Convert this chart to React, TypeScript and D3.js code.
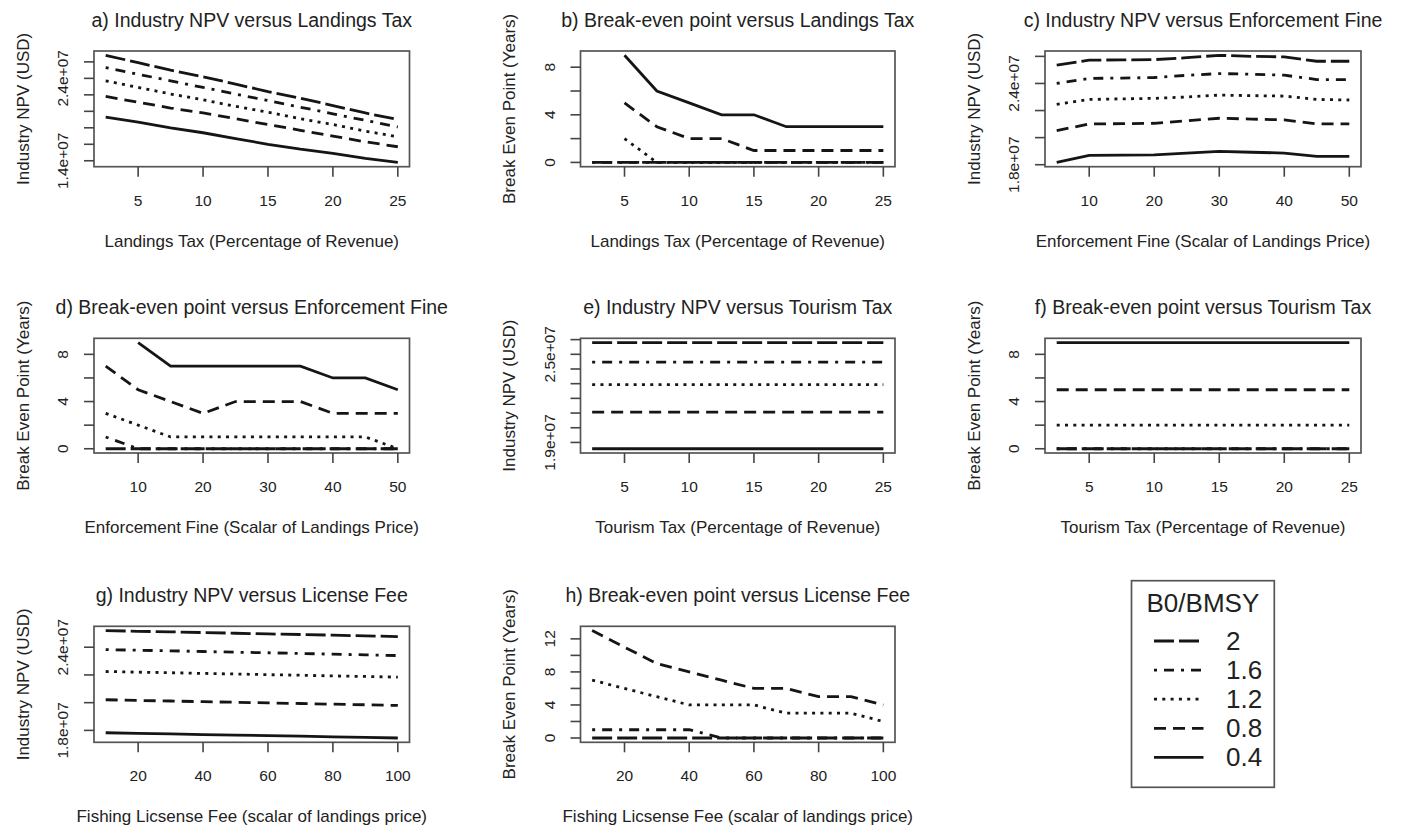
import React from "react";
import * as d3 from "d3";

// ---------- data ----------
const LEVELS = ["2", "1.6", "1.2", "0.8", "0.4"]; // B0/BMSY
const DASHES = ["20 5", "3 7 10 7", "3 5.3", "12 7", ""];

const taxPct = [2.5, 5, 7.5, 10, 12.5, 15, 17.5, 20, 22.5, 25];
const finePct = [5, 10, 15, 20, 25, 30, 35, 40, 45, 50];
const feeScalar = [10, 20, 30, 40, 50, 60, 70, 80, 90, 100];
const N = NaN;

// a) Industry NPV vs landings tax
const npvTax2 = [2.68e7, 2.59e7, 2.5e7, 2.42e7, 2.33e7, 2.24e7, 2.16e7, 2.07e7, 1.98e7, 1.9e7];
const npvTax16 = [2.53e7, 2.45e7, 2.37e7, 2.29e7, 2.21e7, 2.13e7, 2.05e7, 1.97e7, 1.89e7, 1.81e7];
const npvTax12 = [2.37e7, 2.29e7, 2.21e7, 2.14e7, 2.06e7, 1.99e7, 1.91e7, 1.84e7, 1.76e7, 1.69e7];
const npvTax08 = [2.18e7, 2.11e7, 2.04e7, 1.98e7, 1.91e7, 1.84e7, 1.77e7, 1.7e7, 1.63e7, 1.57e7];
const npvTax04 = [1.93e7, 1.87e7, 1.8e7, 1.74e7, 1.67e7, 1.6e7, 1.54e7, 1.49e7, 1.43e7, 1.38e7];

// b) Break-even vs landings tax
const beTax2 = [0, 0, 0, 0, 0, 0, 0, 0, 0, 0];
const beTax16 = [0, 0, 0, 0, 0, 0, 0, 0, 0, 0];
const beTax12 = [N, 2, 0, 0, 0, 0, 0, 0, 0, 0];
const beTax08 = [N, 5, 3, 2, 2, 1, 1, 1, 1, 1];
const beTax04 = [N, 9, 6, 5, 4, 4, 3, 3, 3, 3];

// c) Industry NPV vs enforcement fine
const npvFine2 = [2.535e7, 2.572e7, 2.574e7, 2.576e7, 2.59e7, 2.608e7, 2.6e7, 2.596e7, 2.564e7, 2.564e7];
const npvFine16 = [2.4e7, 2.437e7, 2.44e7, 2.444e7, 2.46e7, 2.473e7, 2.468e7, 2.461e7, 2.429e7, 2.429e7];
const npvFine12 = [2.246e7, 2.282e7, 2.286e7, 2.29e7, 2.3e7, 2.314e7, 2.31e7, 2.307e7, 2.282e7, 2.278e7];
const npvFine08 = [2.052e7, 2.101e7, 2.103e7, 2.106e7, 2.125e7, 2.143e7, 2.137e7, 2.131e7, 2.101e7, 2.101e7];
const npvFine04 = [1.817e7, 1.869e7, 1.871e7, 1.873e7, 1.886e7, 1.898e7, 1.892e7, 1.886e7, 1.861e7, 1.861e7];

// d) Break-even vs enforcement fine
const beFine2 = [0, 0, 0, 0, 0, 0, 0, 0, 0, 0];
const beFine16 = [1, 0, 0, 0, 0, 0, 0, 0, 0, 0];
const beFine12 = [3, 2, 1, 1, 1, 1, 1, 1, 1, 0];
const beFine08 = [7, 5, 4, 3, 4, 4, 4, 3, 3, 3];
const beFine04 = [N, 9, 7, 7, 7, 7, 7, 6, 6, 5];

// e) Industry NPV vs tourism tax
const npvTour2 = [2.58e7, 2.58e7, 2.58e7, 2.58e7, 2.58e7, 2.58e7, 2.58e7, 2.58e7, 2.58e7, 2.58e7];
const npvTour16 = [2.447e7, 2.447e7, 2.447e7, 2.447e7, 2.447e7, 2.447e7, 2.447e7, 2.447e7, 2.447e7, 2.447e7];
const npvTour12 = [2.293e7, 2.293e7, 2.293e7, 2.293e7, 2.293e7, 2.293e7, 2.293e7, 2.293e7, 2.293e7, 2.293e7];
const npvTour08 = [2.107e7, 2.107e7, 2.107e7, 2.107e7, 2.107e7, 2.107e7, 2.107e7, 2.107e7, 2.107e7, 2.107e7];
const npvTour04 = [1.857e7, 1.857e7, 1.857e7, 1.857e7, 1.857e7, 1.857e7, 1.857e7, 1.857e7, 1.857e7, 1.857e7];

// f) Break-even vs tourism tax
const beTour2 = [0, 0, 0, 0, 0, 0, 0, 0, 0, 0];
const beTour16 = [0, 0, 0, 0, 0, 0, 0, 0, 0, 0];
const beTour12 = [2, 2, 2, 2, 2, 2, 2, 2, 2, 2];
const beTour08 = [5, 5, 5, 5, 5, 5, 5, 5, 5, 5];
const beTour04 = [9, 9, 9, 9, 9, 9, 9, 9, 9, 9];

// g) Industry NPV vs license fee
const npvFee2 = [2.52e7, 2.515e7, 2.511e7, 2.506e7, 2.501e7, 2.496e7, 2.492e7, 2.487e7, 2.482e7, 2.477e7];
const npvFee16 = [2.383e7, 2.378e7, 2.374e7, 2.369e7, 2.364e7, 2.36e7, 2.355e7, 2.35e7, 2.345e7, 2.34e7];
const npvFee12 = [2.225e7, 2.22e7, 2.216e7, 2.211e7, 2.207e7, 2.202e7, 2.198e7, 2.193e7, 2.189e7, 2.184e7];
const npvFee08 = [2.021e7, 2.016e7, 2.012e7, 2.007e7, 2.003e7, 1.998e7, 1.994e7, 1.989e7, 1.985e7, 1.98e7];
const npvFee04 = [1.783e7, 1.779e7, 1.775e7, 1.77e7, 1.766e7, 1.762e7, 1.758e7, 1.753e7, 1.749e7, 1.745e7];

// h) Break-even vs license fee
const beFee2 = [0, 0, 0, 0, 0, 0, 0, 0, 0, 0];
const beFee16 = [1, 1, 1, 1, 0, 0, 0, 0, 0, 0];
const beFee12 = [7, 6, 5, 4, 4, 4, 3, 3, 3, 2];
const beFee08 = [13, 11, 9, 8, 7, 6, 6, 5, 5, 4];
const beFee04 = [N, N, N, N, N, N, N, N, N, N];

// ticks
const taxTicks = [5, 10, 15, 20, 25];
const fineTicks = [10, 20, 30, 40, 50];
const feeTicks = [20, 40, 60, 80, 100];
const npvTaxTicks = [1.4e7, 1.6e7, 1.8e7, 2.0e7, 2.2e7, 2.4e7, 2.6e7];
const npvTaxLabels = [1.4e7, 2.4e7];
const npvFineTicks = [1.8e7, 2.0e7, 2.2e7, 2.4e7, 2.6e7];
const npvFineLabels = [1.8e7, 2.4e7];
const npvTourTicks = [1.9e7, 2.0e7, 2.1e7, 2.2e7, 2.3e7, 2.4e7, 2.5e7, 2.6e7];
const npvTourLabels = [1.9e7, 2.5e7];
const npvFeeTicks = [1.8e7, 2.0e7, 2.2e7, 2.4e7];
const npvFeeLabels = [1.8e7, 2.4e7];
const beTicks = [0, 2, 4, 6, 8];
const beLabels = [0, 4, 8];
const beFeeTicks = [0, 2, 4, 6, 8, 10, 12];
const beFeeLabels = [0, 4, 8, 12];

// ---------- layout ----------
const COLS: [number, number][] = [[94, 409.5], [580.5, 895], [1045, 1361]];
const ROWS: [number, number][] = [[51, 166.7], [338.3, 453], [626.3, 742.3]];
const TEXT = "#222";
const FONT = "'Liberation Sans', Arial, sans-serif";

const sci = (v: number) =>
  v.toExponential(1).replace(/e([+-])(\d)$/, (_m, s, d) => "e" + s + "0" + d);
const plain = (v: number) => String(v);

const NPV_Y = "Industry NPV (USD)";
const BE_Y = "Break Even Point (Years)";
const TAX_X = "Landings Tax (Percentage of Revenue)";
const FINE_X = "Enforcement Fine (Scalar of Landings Price)";
const TOUR_X = "Tourism Tax (Percentage of Revenue)";
const FEE_X = "Fishing Licsense Fee (scalar of landings price)";

const panels = [
  { title: "a) Industry NPV versus Landings Tax", xl: TAX_X, yl: NPV_Y, x: taxPct, s: [npvTax2, npvTax16, npvTax12, npvTax08, npvTax04], xt: taxTicks, yt: npvTaxTicks, ylab: npvTaxLabels, f: sci, r: 0, c: 0 },
  { title: "b) Break-even point versus Landings Tax", xl: TAX_X, yl: BE_Y, x: taxPct, s: [beTax2, beTax16, beTax12, beTax08, beTax04], xt: taxTicks, yt: beTicks, ylab: beLabels, f: plain, r: 0, c: 1 },
  { title: "c) Industry NPV versus Enforcement Fine", xl: FINE_X, yl: NPV_Y, x: finePct, s: [npvFine2, npvFine16, npvFine12, npvFine08, npvFine04], xt: fineTicks, yt: npvFineTicks, ylab: npvFineLabels, f: sci, r: 0, c: 2 },
  { title: "d) Break-even point versus Enforcement Fine", xl: FINE_X, yl: BE_Y, x: finePct, s: [beFine2, beFine16, beFine12, beFine08, beFine04], xt: fineTicks, yt: beTicks, ylab: beLabels, f: plain, r: 1, c: 0 },
  { title: "e) Industry NPV versus Tourism Tax", xl: TOUR_X, yl: NPV_Y, x: taxPct, s: [npvTour2, npvTour16, npvTour12, npvTour08, npvTour04], xt: taxTicks, yt: npvTourTicks, ylab: npvTourLabels, f: sci, r: 1, c: 1 },
  { title: "f) Break-even point versus Tourism Tax", xl: TOUR_X, yl: BE_Y, x: taxPct, s: [beTour2, beTour16, beTour12, beTour08, beTour04], xt: taxTicks, yt: beTicks, ylab: beLabels, f: plain, r: 1, c: 2 },
  { title: "g) Industry NPV versus License Fee", xl: FEE_X, yl: NPV_Y, x: feeScalar, s: [npvFee2, npvFee16, npvFee12, npvFee08, npvFee04], xt: feeTicks, yt: npvFeeTicks, ylab: npvFeeLabels, f: sci, r: 2, c: 0 },
  { title: "h) Break-even point versus License Fee", xl: FEE_X, yl: BE_Y, x: feeScalar, s: [beFee2, beFee16, beFee12, beFee08, beFee04], xt: feeTicks, yt: beFeeTicks, ylab: beFeeLabels, f: plain, r: 2, c: 1 },
];

const padR = ([a, b]: [number, number]): [number, number] => {
  const d = (b - a) * 0.04;
  return [a - d, b + d];
};

function Panel({ p }: { p: (typeof panels)[number] }) {
  const [x0, x1] = COLS[p.c];
  const [y0, y1] = ROWS[p.r];
  const xs = d3.scaleLinear().domain(padR(d3.extent(p.x) as [number, number])).range([x0, x1]);
  const all = p.s.flat().filter((v) => !isNaN(v));
  const ys = d3.scaleLinear().domain(padR(d3.extent(all) as [number, number])).range([y1, y0]);
  const line = d3
    .line<[number, number]>()
    .defined((d) => !isNaN(d[1]))
    .x((d) => xs(d[0]))
    .y((d) => ys(d[1]));
  const order = [4, 3, 2, 1, 0];
  const cx = (x0 + x1) / 2;
  const cy = (y0 + y1) / 2;
  return (
    <g>
      <text x={cx} y={y0 - 24.5} textAnchor="middle" fontSize={19.5} fill={TEXT}>{p.title}</text>
      {order.map((k) => (
        <path key={k} d={line(p.x.map((xv, i) => [xv, p.s[k][i]] as [number, number])) || ""}
          fill="none" stroke="#151515" strokeWidth={2.8}
          strokeDasharray={DASHES[k] || undefined} />
      ))}
      <rect x={x0} y={y0} width={x1 - x0} height={y1 - y0} fill="none" stroke="#555" strokeWidth={1.7} />
      {p.xt.map((t) => (
        <g key={"x" + t}>
          <line x1={xs(t)} x2={xs(t)} y1={y1} y2={y1 + 10} stroke="#444" strokeWidth={1.6} />
          <text x={xs(t)} y={y1 + 39} textAnchor="middle" fontSize={15.5} fill={TEXT}>{t}</text>
        </g>
      ))}
      {p.yt.map((t) => (
        <line key={"y" + t} x1={x0 - 10} x2={x0} y1={ys(t)} y2={ys(t)} stroke="#444" strokeWidth={1.6} />
      ))}
      {p.ylab.map((t) => (
        <text key={"yl" + t} transform={`translate(${x0 - 31},${ys(t)}) rotate(-90)`} textAnchor="middle"
          dy="0.35em" fontSize={15.5} fill={TEXT}>{p.f(t)}</text>
      ))}
      <text x={cx} y={y1 + 80} textAnchor="middle" fontSize={17} fill={TEXT}>{p.xl}</text>
      <text transform={`translate(${x0 - 71},${cy}) rotate(-90)`} textAnchor="middle" dy="0.35em"
        fontSize={17} fill={TEXT}>{p.yl}</text>
    </g>
  );
}

function Legend() {
  const bx0 = 1131.5, bx1 = 1274.3, by0 = 580.7, by1 = 787.3;
  return (
    <g>
      <rect x={bx0} y={by0} width={bx1 - bx0} height={by1 - by0} fill="none" stroke="#555" strokeWidth={1.7} />
      <text x={(bx0 + bx1) / 2} y={611.7} textAnchor="middle" fontSize={26} fill={TEXT}>B0/BMSY</text>
      {LEVELS.map((lv, i) => {
        const base = 650 + i * 29.1;
        return (
          <g key={lv}>
            <line x1={1154} x2={1203.5} y1={base - 9} y2={base - 9} stroke="#151515" strokeWidth={2.8}
              strokeDasharray={DASHES[i] || undefined} />
            <text x={1226} y={base} fontSize={26} fill={TEXT}>{lv}</text>
          </g>
        );
      })}
    </g>
  );
}

export default function App() {
  return (
    <svg width={1401} height={827} style={{ position: "absolute", left: 0, top: 0, background: "#fff" }}
      fontFamily={FONT}>
      <rect x={0} y={0} width={1401} height={827} fill="#fff" />
      {panels.map((p) => (
        <Panel key={p.title} p={p} />
      ))}
      <Legend />
    </svg>
  );
}
